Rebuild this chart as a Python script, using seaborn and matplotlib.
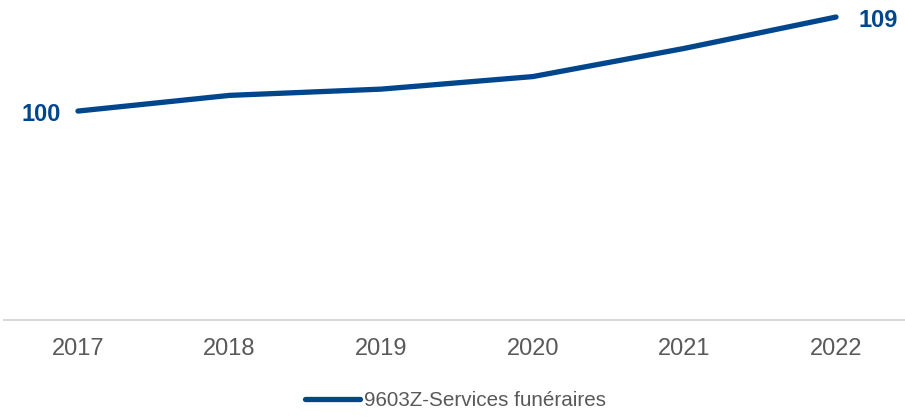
import matplotlib
matplotlib.use("Agg")
import matplotlib.pyplot as plt
import seaborn as sns

years = ["2017", "2018", "2019", "2020", "2021", "2022"]
index_values = [100, 101.5, 102.1, 103.3, 106.0, 109]
series_name = "9603Z-Services funéraires"

line_color = "#00468C"
gray = "#595959"


def draw():
    sns.set_style("white")
    plt.rcParams['font.family'] = ['Liberation Sans', 'DejaVu Sans']

    fig = plt.figure(figsize=(9.05, 4.18), dpi=100)
    ax = fig.add_axes([4 / 905, 1 - 320 / 418, 901 / 905, 320 / 418])

    sns.lineplot(x=list(range(len(years))), y=index_values, ax=ax,
                 color=line_color, linewidth=3.8, label=series_name,
                 solid_capstyle="round", legend=False)

    ax.set_xlim(-0.488, 5.455)
    ax.set_ylim(80, 110.63)
    ax.set_xticks(range(len(years)))
    ax.set_xticklabels(years, fontsize=17, color=gray)
    ax.tick_params(axis="x", length=0, pad=13)
    ax.set_yticks([])

    for side in ["top", "left", "right"]:
        ax.spines[side].set_visible(False)
    ax.spines["bottom"].set_color("#d9d9d9")
    ax.spines["bottom"].set_linewidth(1.5)

    # end labels
    ax.annotate(f"{index_values[0]:g}", (0, index_values[0]),
                xytext=(-17, -3), textcoords="offset pixels",
                ha="right", va="center", fontsize=17,
                fontweight="bold", color=line_color)
    ax.annotate(f"{index_values[-1]:g}", (len(years) - 1, index_values[-1]),
                xytext=(22, -3), textcoords="offset pixels",
                ha="left", va="center", fontsize=17,
                fontweight="bold", color=line_color)

    handles, labels = ax.get_legend_handles_labels()
    leg = fig.legend(handles, labels, loc="lower center",
                     bbox_to_anchor=(0.503, -0.025), frameon=False,
                     fontsize=14.9, handlelength=2.65, handletextpad=0.2)
    for t in leg.get_texts():
        t.set_color(gray)

    fig.savefig("out.png", dpi=100)


if __name__ == "__main__":
    draw()
